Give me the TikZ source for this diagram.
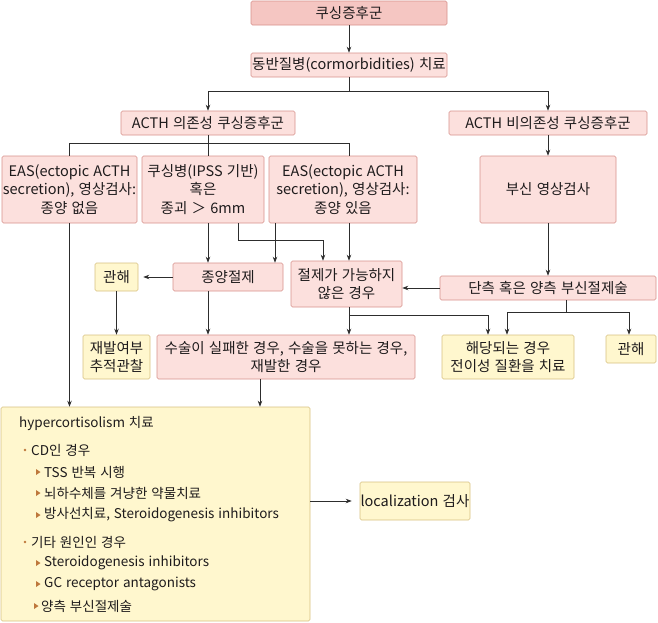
\documentclass[tikz,border=0pt]{standalone}
\usepackage{fontspec}
\setmainfont[WordSpace=1.3]{Noto Sans CJK KR}
\usetikzlibrary{arrows.meta,calc}
\definecolor{pinkfill}{RGB}{252,224,221}
\definecolor{pinkdark}{RGB}{245,198,194}
\definecolor{pinkline}{RGB}{215,145,140}
\definecolor{yelfill}{RGB}{255,247,206}
\definecolor{yelline}{RGB}{215,192,128}
\definecolor{txt}{RGB}{30,27,28}
\definecolor{lin}{RGB}{45,45,45}
\definecolor{bulletcol}{RGB}{190,120,60}
\tikzset{
  box/.style={draw, rounded corners=1.5pt, line width=0.6pt, align=center, inner sep=0pt, text=txt,
    font=\fontsize{14.5}{18.3}\selectfont},
  pinkbox/.style={box, draw=pinkline, fill=pinkfill},
  topbox/.style={box, draw=pinkline, fill=pinkdark},
  yelbox/.style={box, draw=yelline, fill=yelfill},
  conn/.style={draw=lin, line width=0.7pt},
  arr/.style={conn, -{Stealth[length=6pt,width=4.5pt]}},
  item/.style={anchor=west, inner sep=0pt, text=txt, font=\fontsize{13.5}{16}\selectfont},
}
\newcommand{\dotmark}[1]{\fill[bulletcol] (#1) circle (1.3pt);}
\newcommand{\trimark}[1]{\fill[bulletcol] ($(#1)+(-2,-3)$) -- ($(#1)+(2.5,0)$) -- ($(#1)+(-2,3)$) -- cycle;}
\begin{document}
\begin{tikzpicture}[x=1pt,y=-1pt]
\useasboundingbox (0,0) rectangle (658,622);
% boxes
\node[topbox, minimum width=196pt, minimum height=24pt] (top) at (349,13) {쿠싱증후군};
\node[pinkbox, minimum width=196pt, minimum height=24pt] (comorb) at (349,65) {동반질병(cormorbidities) 치료};
\node[pinkbox, minimum width=174pt, minimum height=24pt] (dep) at (208,123) {ACTH 의존성 쿠싱증후군};
\node[pinkbox, minimum width=198pt, minimum height=24pt] (indep) at (548,123) {ACTH 비의존성 쿠싱증후군};
\node[pinkbox, minimum width=135pt, minimum height=67pt] (eas1) at (69.5,189.5) {EAS(ectopic ACTH\\secretion), 영상검사:\\종양 없음};
\node[pinkbox, minimum width=122pt, minimum height=67pt] (cush) at (203,189.5) {쿠싱병(IPSS 기반)\\혹은\\종괴 ＞ 6mm};
\node[pinkbox, minimum width=148pt, minimum height=67pt] (eas2) at (343,189.5) {EAS(ectopic ACTH\\secretion), 영상검사:\\종양 있음};
\node[pinkbox, minimum width=136pt, minimum height=67pt] (adrimg) at (548,189.5) {부신 영상검사};
\node[pinkbox, minimum width=110pt, minimum height=28pt] (resect) at (228,277) {종양절제};
\node[pinkbox, minimum width=111pt, minimum height=46pt] (notres) at (346.5,284) {절제가 가능하지\\않은 경우};
\node[yelbox, minimum width=43pt, minimum height=28pt] (rem1) at (116.5,277) {관해};
\node[pinkbox, minimum width=216pt, minimum height=24pt] (adrsurg) at (548,288) {단측 혹은 양측 부신절제술};
\node[yelbox, minimum width=67pt, minimum height=44pt] (recur) at (116.5,357) {재발여부\\추적관찰};
\node[pinkbox, minimum width=258pt, minimum height=44pt] (fail) at (286,357) {수술이 실패한 경우, 수술을 못하는 경우,\\재발한 경우};
\node[yelbox, minimum width=132pt, minimum height=44pt] (meta) at (508,357) {해당되는 경우\\전이성 질환을 치료};
\node[yelbox, minimum width=50pt, minimum height=28pt] (rem2) at (631,349) {관해};
\node[yelbox, minimum width=309pt, minimum height=214pt] (hyper) at (155.5,514) {};
\node[yelbox, minimum width=110pt, minimum height=38pt] (local) at (415,501) {localization 검사};
% list in hyper box
\node[item] (h0) at (19,423) {hypercortisolism 치료};
\coordinate (d1) at (25,450); \dotmark{d1}
\node[item] (h1) at (31,450) {CD인 경우};
\coordinate (t1) at (38,472); \trimark{t1}
\node[item] (h2) at (44,472) {TSS 반복 시행};
\coordinate (t2) at (38,493); \trimark{t2}
\node[item] (h3) at (44,493) {뇌하수체를 겨냥한 약물치료};
\coordinate (t3) at (38,515); \trimark{t3}
\node[item] (h4) at (44,515) {방사선치료, Steroidogenesis inhibitors};
\coordinate (d2) at (25,542); \dotmark{d2}
\node[item] (h5) at (31,542) {기타 원인인 경우};
\coordinate (t4) at (38,563); \trimark{t4}
\node[item] (h6) at (44,563) {Steroidogenesis inhibitors};
\coordinate (t5) at (38,584); \trimark{t5}
\node[item] (h7) at (44,584) {GC receptor antagonists};
\coordinate (t6) at (36,606); \trimark{t6}
\node[item] (h8) at (41,606) {양측 부신절제술};
% connectors
\draw[arr] (top) -- (comorb);
\draw[conn] (comorb.south) -- ++(0,14) coordinate (j1);
\draw[arr] (j1) -| (dep.north);
\draw[arr] (j1) -| (indep.north);
\draw[conn] (dep.south) -- ([xshift=5pt]cush.north);
\draw[conn] (eas1.north) -- ++(0,-12) -| ([xshift=6pt]eas2.north);
\draw[arr] (indep) -- (adrimg);
\draw[arr] (eas1.south) -- (eas1.south |- hyper.north);
\draw[arr] ([xshift=5pt]cush.south) -- ([xshift=5pt]cush.south |- resect.north);
\draw[arr] ([xshift=35pt]cush.south) -- ++(0,17) -| ([xshift=-23.5pt]notres.north);
\draw[arr] ([xshift=-68pt]eas2.south) -- ([xshift=-68pt]eas2.south |- resect.north);
\draw[arr] ([xshift=6pt]eas2.south) -- ([xshift=6pt]eas2.south |- notres.north);
\draw[arr, shorten >=5pt] (resect.west) -- (resect.west -| rem1.east);
\draw[arr] (rem1) -- (recur);
\draw[arr] (adrimg) -- (adrsurg);
\draw[arr] (adrsurg.west) -- (adrsurg.west -| notres.east);
\draw[arr] ([xshift=2.5pt]notres.south) -- ([xshift=2.5pt]notres.south |- fail.north);
\draw[arr] ([xshift=2.5pt]notres.south) -- ++(0,8) -| ([xshift=-20pt]meta.north);
\draw[conn] ([xshift=18pt]adrsurg.south) -- ++(0,12) coordinate (j3);
\draw[arr] (j3) -| ([xshift=-1pt]meta.north);
\draw[arr] (j3) -| ([xshift=-2pt]rem2.north);
\draw[arr] ([xshift=-20pt]resect.south) -- ([xshift=-20pt]resect.south |- fail.north);
\draw[arr] ([xshift=-26pt]fail.south) -- ([xshift=-26pt]fail.south |- hyper.north);
\draw[arr, shorten >=8pt] (hyper.east |- local.west) -- (local.west);
\end{tikzpicture}
\end{document}
